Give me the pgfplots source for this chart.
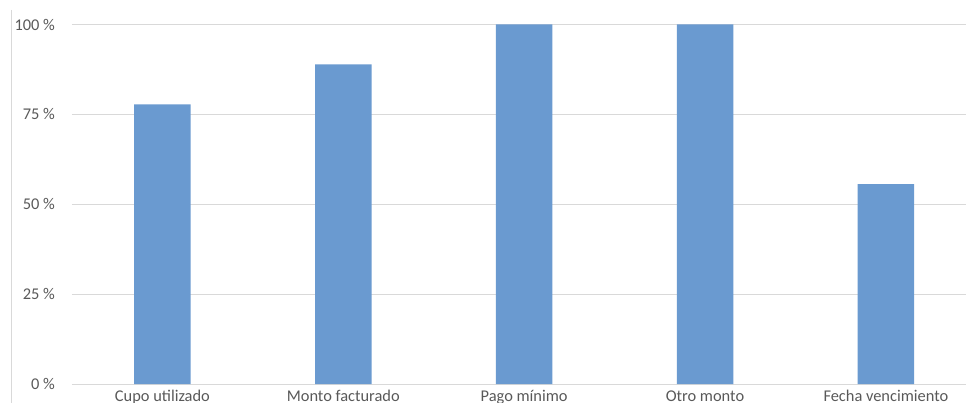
\documentclass[border=0pt]{standalone}
\usepackage{fontspec}
\setmainfont{Carlito}
\usepackage{pgfplots}
\pgfplotsset{compat=1.18}
\definecolor{barblue}{RGB}{106,154,208}
\definecolor{gridgray}{RGB}{217,217,217}
\definecolor{labelgray}{RGB}{89,89,89}
\begin{document}
\begin{tikzpicture}
% visible frame of the chart area
\clip (-72pt,-18pt) rectangle (894pt,384pt);
\draw[gridgray, line width=0.9pt] (-61pt,374pt) -- (-61pt,-20pt);
\begin{axis}[
  scale only axis,
  width=894pt, height=359.5pt,
  xmin=-0.5, xmax=4.443,
  ymin=0, ymax=100,
  axis line style={draw=none},
  major tick length=0pt,
  ymajorgrids,
  grid style={gridgray, line width=0.9pt},
  ytick={0,25,50,75,100},
  yticklabels={0 \%,25 \%,50 \%,75 \%,100 \%},
  xtick={0,1,2,3,4},
  xticklabels={Cupo utilizado,Monto facturado,Pago mínimo,Otro monto,Fecha vencimiento},
  tick label style={font=\fontsize{16.4}{19}\selectfont, text=labelgray},
  yticklabel style={xshift=-13.5pt},
  xticklabel style={yshift=-3pt},
  clip=false,
]
\addplot[ybar, bar width=56.5pt, fill=barblue, draw=none] coordinates {
  (0,77.8) (1,88.9) (2,100) (3,100) (4,55.6)
};
\end{axis}
\end{tikzpicture}
\end{document}
